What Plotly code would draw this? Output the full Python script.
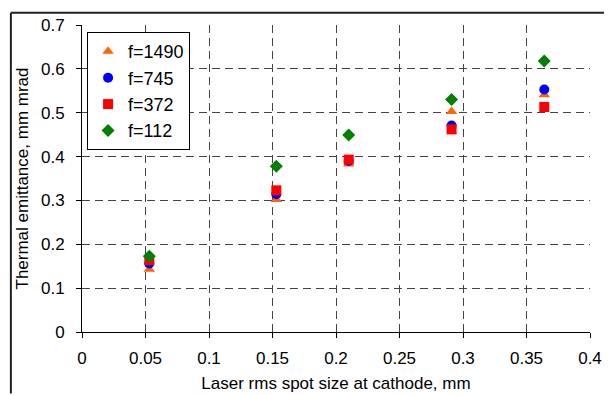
import plotly.graph_objects as go

x_spot = [0.053, 0.153, 0.21, 0.291, 0.364]
f1490 = [0.143, 0.302, 0.383, 0.503, 0.541]
f745 = [0.156, 0.314, 0.390, 0.471, 0.553]
f372 = [0.164, 0.323, 0.393, 0.462, 0.513]
f112 = [0.173, 0.378, 0.449, 0.530, 0.618]

series = [
    ("f=1490", f1490, "triangle-up", "#FF6600"),
    ("f=745", f745, "circle", "#0000FF"),
    ("f=372", f372, "square", "#FF0000"),
    ("f=112", f112, "diamond", "#008000"),
]

fig = go.Figure()
for name, ys, sym, col in series:
    fig.add_trace(go.Scatter(x=x_spot, y=ys, mode="markers", name=name,
                             marker=dict(symbol=sym, color=col, size=10,
                                         line=dict(width=0))))

FONT = "Liberation Sans, Arial, sans-serif"
axis_common = dict(showline=True, linecolor="black", linewidth=1,
                   ticks="outside", ticklen=5, tickcolor="black",
                   showgrid=True, gridcolor="#444", gridwidth=1,
                   griddash="8px,5px", zeroline=False, automargin=False,
                   tickfont=dict(family=FONT, size=17, color="black"))

fig.update_xaxes(range=[0, 0.4], dtick=0.05, tick0=0, ticklabelstandoff=6,
                 title=dict(text="Laser rms spot size at cathode, mm",
                            font=dict(family=FONT, size=17, color="black"),
                            standoff=9),
                 **axis_common)
fig.update_yaxes(range=[0, 0.7], dtick=0.1, tick0=0, ticklabelstandoff=8,
                 title=dict(text="Thermal emittance, mm mrad",
                            font=dict(family=FONT, size=17, color="black"),
                            standoff=8),
                 **axis_common)

# outer chart frame (top and left edges; right/bottom lie outside the view)
fig.add_shape(type="line", xref="paper", yref="paper",
              x0=-0.14, x1=1.05, y0=1.04, y1=1.04,
              line=dict(color="#222", width=2), layer="above")
fig.add_shape(type="line", xref="paper", yref="paper",
              x0=-0.14, x1=-0.14, y0=-0.2, y1=1.04,
              line=dict(color="#222", width=2), layer="above")

fig.update_layout(
    width=612, height=395,
    margin=dict(l=74, r=30, t=17, b=71),
    paper_bgcolor="white", plot_bgcolor="white",
    font=dict(family=FONT, color="black"),
    legend=dict(x=0.01, y=0.977, xanchor="left", yanchor="top",
                bgcolor="white", bordercolor="black", borderwidth=1,
                font=dict(family=FONT, size=18, color="black"),
                tracegroupgap=0, itemwidth=30),
    showlegend=True,
)

fig.write_html("out.html")
